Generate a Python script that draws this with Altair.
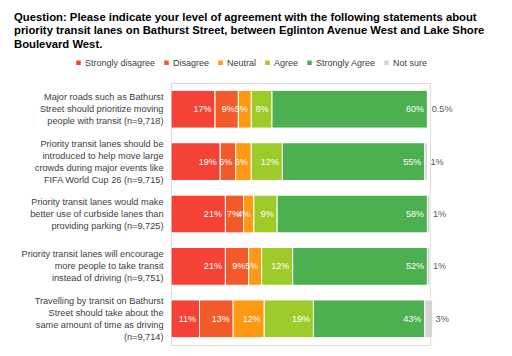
import altair as alt
import pandas as pd

statements = [
    "Major roads such as Bathurst|Street should prioritize moving|people with transit (n=9,718)",
    "Priority transit lanes should be|introduced to help move large|crowds during major events like|FIFA World Cup 26 (n=9,715)",
    "Priority transit lanes would make|better use of curbside lanes than|providing parking (n=9,725)",
    "Priority transit lanes will encourage|more people to take transit|instead of driving (n=9,751)",
    "Travelling by transit on Bathurst|Street should take about the|same amount of time as driving|(n=9,714)",
]
categories = ["Strongly disagree", "Disagree", "Neutral", "Agree", "Strongly Agree", "Not sure"]
colors = ["#f44336", "#f25a2a", "#fd9a12", "#9dcc2a", "#4caf50", "#d3d3d3"]

strongly_disagree = [17, 19, 21, 21, 11]
disagree = [9, 6, 7, 9, 13]
neutral = [5, 6, 4, 5, 12]
agree = [8, 12, 9, 12, 19]
strongly_agree = [60, 55, 58, 52, 43]
not_sure = [0.5, 1, 1, 1, 3]
value_labels = {
    "Not sure": ["0.5%", "1%", "1%", "1%", "3%"],
}

series = [strongly_disagree, disagree, neutral, agree, strongly_agree, not_sure]
rows = []
for i, s in enumerate(statements):
    start = 0.0
    for c, vals in zip(categories, series):
        v = vals[i]
        lab = value_labels[c][i] if c in value_labels else f"{v:g}%"
        rows.append({"statement": s, "category": c, "order": categories.index(c),
                     "start": start, "end": start + v, "label": lab})
        start += v
df = pd.DataFrame(rows)

FONT = "Liberation Sans"

y_enc = alt.Y("statement:N", sort=statements, title=None,
              scale=alt.Scale(paddingInner=0.28, paddingOuter=0.14),
              axis=alt.Axis(labelExpr="split(datum.label, '|')", labelLineHeight=12,
                            labelFontSize=9.2, labelColor="#404040", labelFont=FONT,
                            ticks=False, labelPadding=8, domainColor="#d9d9d9",
                            labelLimit=200,
                            labelOffset={"condition": {"test": "length(split(datum.label, '|')) == 4",
                                                       "value": -18},
                                         "value": -12}))
x_scale = alt.Scale(domain=[0, 100])

bars = alt.Chart(df).mark_bar(stroke="white", strokeWidth=1).encode(
    x=alt.X("start:Q", scale=x_scale, axis=None),
    x2="end:Q",
    y=y_enc,
    color=alt.Color("category:N", scale=alt.Scale(domain=categories, range=colors),
                    legend=alt.Legend(title=None, orient="none", direction="horizontal",
                                      legendX=-97, legendY=-25, symbolType="square",
                                      symbolSize=20, labelFontSize=9, labelFont=FONT,
                                      labelColor="#404040", columnPadding=6,
                                      labelOffset=2, padding=0, symbolStrokeWidth=0)),
    order="order:Q",
)

inside = alt.Chart(df).transform_filter("datum.category != 'Not sure'").mark_text(
    align="right", baseline="middle", dx=-3.5, color="white", fontSize=9, font=FONT
).encode(x=alt.X("end:Q", scale=x_scale), y=alt.Y("statement:N", sort=statements), text="label:N")

outside = alt.Chart(df).transform_filter("datum.category == 'Not sure'").mark_text(
    align="left", baseline="middle", dx=3, color="#595959", fontSize=9.2, font=FONT
).encode(x=alt.X("end:Q", scale=x_scale), y=alt.Y("statement:N", sort=statements), text="label:N")

chart = alt.layer(bars, inside, outside).properties(
    width=259, height=262,
    padding={"left": 171, "top": 83, "right": 82, "bottom": 11},
    autosize=alt.AutoSizeParams(type="none"),
    title=alt.TitleParams(
        text=["Question: Please indicate your level of agreement with the following statements about",
              "priority transit lanes on Bathurst Street, between Eglinton Avenue West and Lake Shore",
              "Boulevard West."],
        anchor="start", frame="group", dx=-157, dy=-8, fontSize=11.3, font=FONT, fontWeight="bold",
        color="black", lineHeight=13.5, offset=0,
    ),
).configure_view(stroke=None).configure(background="white")

chart.save("out.html", embed_options={"renderer": "svg", "actions": False})
